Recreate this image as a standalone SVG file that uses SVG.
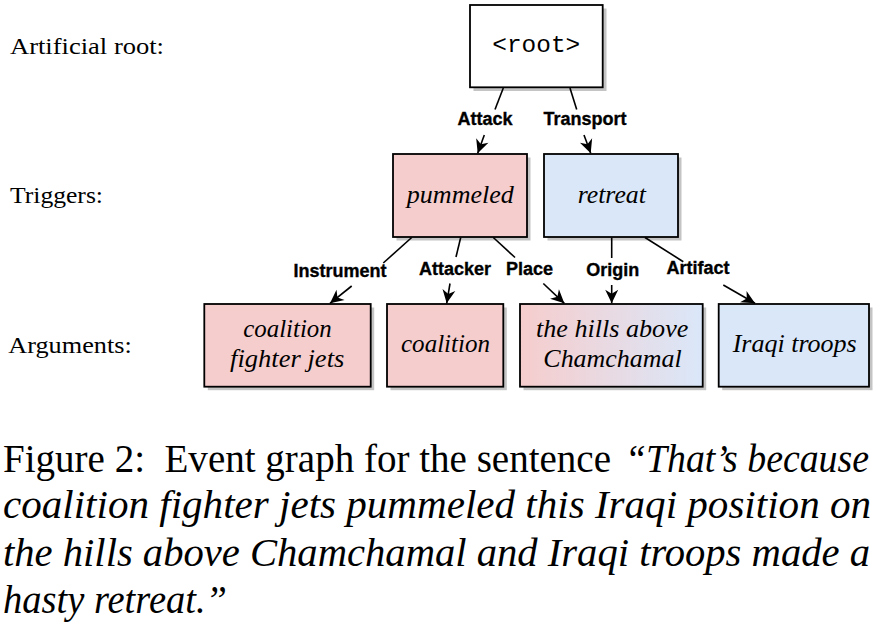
<svg xmlns="http://www.w3.org/2000/svg" width="878" height="624" viewBox="0 0 878 624">
<defs>
  <linearGradient id="pinkblue" x1="0" y1="0" x2="1" y2="0">
    <stop offset="0" stop-color="#F6CDCD"/>
    <stop offset="1" stop-color="#DAE7F9"/>
  </linearGradient>
  <marker id="stealth" viewBox="-14 -8 15 16" refX="0" refY="0" markerWidth="15" markerHeight="16" markerUnits="userSpaceOnUse" orient="auto">
    <path d="M0,0 L-13.5,-6.5 L-9.5,0 L-13.5,6.5 Z" fill="#000"/>
  </marker>
</defs>
<style>
  .box { stroke: #000; stroke-width: 1.8; }
  .shadow { fill: #c4c4c4; }
  .pink { fill: #F6CDCD; }
  .blue { fill: #DAE7F9; }
  .white { fill: #fff; }
  .node { font-family: "Liberation Serif", serif; font-style: italic; font-size: 25px; fill: #000; text-anchor: middle; }
  .lab { font-family: "Liberation Sans", Arial, sans-serif; font-weight: bold; font-size: 18px; fill: #000; stroke: #000; stroke-width: 0.35; text-anchor: middle; }
  .side { font-family: "Liberation Serif", serif; font-size: 24px; fill: #000; }
  .cap { font-family: "Liberation Serif", serif; font-size: 40px; fill: #000; }
  .it { font-style: italic; }
  .edge { stroke: #000; stroke-width: 1.6; fill: none; }
  .arrow { stroke: #000; stroke-width: 1.6; fill: none; marker-end: url(#stealth); }
</style>

<!-- Side labels -->
<text class="side" x="10" y="53.5" textLength="154" lengthAdjust="spacingAndGlyphs">Artificial root:</text>
<text class="side" x="10" y="202.7" textLength="93" lengthAdjust="spacingAndGlyphs">Triggers:</text>
<text class="side" x="8.3" y="353.3" textLength="123.4" lengthAdjust="spacingAndGlyphs">Arguments:</text>

<!-- Root -->
<g id="root">
  <rect class="shadow" x="473.5" y="8.5" width="133" height="82.5"/>
  <rect class="box white" x="470" y="5" width="132.7" height="82.3"/>
  <text x="536.3" y="52" font-family="Liberation Mono, DejaVu Sans Mono, monospace" font-size="23" text-anchor="middle" textLength="88" lengthAdjust="spacingAndGlyphs">&lt;root&gt;</text>
</g>

<!-- Triggers -->
<g id="pummeled">
  <rect class="shadow" x="396.5" y="157.5" width="134" height="83"/>
  <rect class="box pink" x="393" y="154" width="134" height="83"/>
  <text class="node" x="460.3" y="202.5" textLength="107" lengthAdjust="spacingAndGlyphs">pummeled</text>
</g>
<g id="retreat">
  <rect class="shadow" x="547.5" y="157.5" width="134" height="83"/>
  <rect class="box blue" x="544" y="154" width="134" height="83"/>
  <text class="node" x="611.8" y="202.5" textLength="68.3" lengthAdjust="spacingAndGlyphs">retreat</text>
</g>

<!-- Arguments -->
<g id="arg-jets">
  <rect class="shadow" x="207.8" y="307.5" width="166.4" height="82.7"/>
  <rect class="box pink" x="204.3" y="304" width="166.4" height="82.7"/>
  <text class="node" x="287.5" y="337.3" textLength="88.3" lengthAdjust="spacingAndGlyphs">coalition</text>
  <text class="node" x="287.2" y="366.7" textLength="114.3" lengthAdjust="spacingAndGlyphs">fighter jets</text>
</g>
<g id="arg-coalition">
  <rect class="shadow" x="390.5" y="307.5" width="116.3" height="82.7"/>
  <rect class="box pink" x="387" y="304" width="116.3" height="82.7"/>
  <text class="node" x="445.5" y="351.7" textLength="89" lengthAdjust="spacingAndGlyphs">coalition</text>
</g>
<g id="arg-hills">
  <rect class="shadow" x="523.5" y="307.5" width="182.7" height="82.7"/>
  <rect class="box" fill="url(#pinkblue)" x="520" y="304" width="182.7" height="82.7"/>
  <text class="node" x="612.2" y="337.3" textLength="152.3" lengthAdjust="spacingAndGlyphs">the hills above</text>
  <text class="node" x="612.5" y="367.3" textLength="138.3" lengthAdjust="spacingAndGlyphs">Chamchamal</text>
</g>
<g id="arg-troops">
  <rect class="shadow" x="722.2" y="307.5" width="150.3" height="82.7"/>
  <rect class="box blue" x="718.7" y="304" width="150.3" height="82.7"/>
  <text class="node" x="794.7" y="351.7" textLength="124" lengthAdjust="spacingAndGlyphs">Iraqi troops</text>
</g>

<!-- Connectors -->
<g id="connectors">
  <line class="edge" x1="503.3" y1="88" x2="495" y2="109.5"/>
  <line class="arrow" x1="484.3" y1="135" x2="477.7" y2="153.2"/>
  <line class="edge" x1="570" y1="88" x2="576.7" y2="109.5"/>
  <line class="arrow" x1="584" y1="135" x2="590.7" y2="153.2"/>

  <line class="edge" x1="411.7" y1="237.5" x2="383.3" y2="263"/>
  <line class="arrow" x1="351.7" y1="286" x2="330" y2="303.3"/>
  <line class="edge" x1="460.7" y1="237.5" x2="456" y2="257"/>
  <line class="arrow" x1="450" y1="283.5" x2="446.7" y2="303.3"/>
  <line class="edge" x1="493.3" y1="237.5" x2="515" y2="257.5"/>
  <line class="arrow" x1="543.3" y1="283.5" x2="564.3" y2="303.3"/>
  <line class="edge" x1="611.7" y1="237.5" x2="611.7" y2="258"/>
  <line class="arrow" x1="611.7" y1="285" x2="611.7" y2="303.3"/>
  <line class="edge" x1="645" y1="237.5" x2="683.3" y2="261.7"/>
  <line class="arrow" x1="723.3" y1="285" x2="755" y2="303.3"/>

  <text class="lab" x="485" y="125">Attack</text>
  <text class="lab" x="585" y="125">Transport</text>
  <text class="lab" x="340" y="276.5">Instrument</text>
  <text class="lab" x="455" y="275">Attacker</text>
  <text class="lab" x="529.5" y="275">Place</text>
  <text class="lab" x="612.7" y="275.5">Origin</text>
  <text class="lab" x="698" y="274">Artifact</text>
</g>

<!-- Caption -->
<text class="cap" x="3" y="471.7" textLength="608" lengthAdjust="spacingAndGlyphs">Figure 2:&#160; Event graph for the sentence</text>
<text class="cap it" x="869" y="471.7" text-anchor="end" textLength="244" lengthAdjust="spacingAndGlyphs">“That’s because</text>
<text class="cap it" x="3" y="518.3" textLength="868" lengthAdjust="spacingAndGlyphs">coalition fighter jets pummeled this Iraqi position on</text>
<text class="cap it" x="3" y="566" textLength="867" lengthAdjust="spacingAndGlyphs">the hills above Chamchamal and Iraqi troops made a</text>
<text class="cap it" x="3" y="612.5" textLength="224" lengthAdjust="spacingAndGlyphs">hasty retreat.”</text>
</svg>
